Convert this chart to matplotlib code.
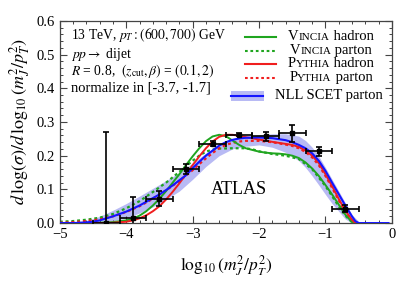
import matplotlib
matplotlib.use('Agg')
import matplotlib.pyplot as plt
from matplotlib.ticker import MultipleLocator
from matplotlib.offsetbox import TextArea, HPacker, AnnotationBbox

plt.rcParams['font.family'] = ['Liberation Serif', 'DejaVu Serif']
plt.rcParams['mathtext.fontset'] = 'stix'

# ATLAS data points
atlas_x = [-4.3, -3.9, -3.5, -3.1, -2.7, -2.3, -1.9, -1.5, -1.1, -0.7]
atlas_y = [0.0, 0.015, 0.072, 0.161, 0.236, 0.262, 0.258, 0.267, 0.213, 0.043]
atlas_yerr = [0.27, 0.063, 0.022, 0.015, 0.007, 0.005, 0.013, 0.025, 0.013, 0.010]
atlas_xerr = [0.2] * 10

# NLL SCET parton (central curve)
nll_x = [-5.0, -4.8, -4.6, -4.5, -4.4, -4.3, -4.2, -4.1, -4.0, -3.9, -3.8, -3.7, -3.6, -3.5,
         -3.4, -3.3, -3.2, -3.1, -3.0, -2.9, -2.8, -2.7, -2.6, -2.5, -2.4, -2.3, -2.2, -2.0,
         -1.8, -1.6, -1.5, -1.4, -1.3, -1.2, -1.1, -1.0, -0.9, -0.8, -0.7, -0.6, -0.55, -0.5, -0.05]
nll_y = [0.0, 0.0, 0.002, 0.004, 0.008, 0.014, 0.02, 0.027, 0.034, 0.043, 0.052, 0.063, 0.074, 0.085,
         0.098, 0.112, 0.127, 0.142, 0.163, 0.182, 0.2, 0.215, 0.23, 0.24, 0.247, 0.251, 0.253, 0.254,
         0.252, 0.246, 0.24, 0.232, 0.222, 0.207, 0.185, 0.155, 0.12, 0.086, 0.052, 0.02, 0.006, 0.0, 0.0]

# NLL uncertainty band
band_x = [-5.0, -4.8, -4.6, -4.4, -4.2, -4.0, -3.8, -3.6, -3.4, -3.2, -3.0, -2.8, -2.6, -2.4,
          -2.2, -2.0, -1.8, -1.6, -1.4, -1.3, -1.2, -1.1, -1.0, -0.9, -0.8, -0.7, -0.6, -0.5]
band_lo = [0.0, 0.0, 0.0, 0.002, 0.007, 0.015, 0.03, 0.048, 0.07, 0.095, 0.13, 0.168, 0.2, 0.22,
           0.228, 0.232, 0.225, 0.21, 0.185, 0.165, 0.14, 0.113, 0.085, 0.058, 0.035, 0.012, 0.0, 0.0]
band_hi = [0.0, 0.002, 0.008, 0.02, 0.038, 0.058, 0.08, 0.103, 0.126, 0.15, 0.178, 0.208, 0.233, 0.25,
           0.258, 0.262, 0.265, 0.265, 0.258, 0.245, 0.225, 0.198, 0.165, 0.13, 0.095, 0.06, 0.025, 0.005]

# Vincia hadron
vh_x = [-5.0, -4.6, -4.4, -4.2, -4.0, -3.9, -3.8, -3.7, -3.6, -3.5, -3.4, -3.3, -3.2, -3.1, -3.0,
        -2.9, -2.8, -2.7, -2.6, -2.5, -2.4, -2.3, -2.2, -2.1, -2.0, -1.9, -1.8, -1.7, -1.6, -1.5,
        -1.4, -1.3, -1.2, -1.1, -1.0, -0.9, -0.8, -0.7, -0.6, -0.55]
vh_y = [0.0, 0.0, 0.001, 0.003, 0.008, 0.013, 0.022, 0.035, 0.052, 0.072, 0.095, 0.12, 0.145, 0.172, 0.198,
        0.222, 0.243, 0.257, 0.262, 0.258, 0.245, 0.232, 0.222, 0.217, 0.212, 0.209, 0.207, 0.206, 0.204, 0.2,
        0.193, 0.18, 0.162, 0.14, 0.113, 0.085, 0.055, 0.025, 0.003, 0.0]

# Vincia parton
vp_x = [-5.0, -4.8, -4.6, -4.4, -4.2, -4.0, -3.8, -3.6, -3.4, -3.2, -3.0, -2.9, -2.8, -2.7, -2.6,
        -2.4, -2.2, -2.1, -2.0, -1.8, -1.6, -1.4, -1.2, -1.0, -0.8, -0.7, -0.6, -0.55]
vp_y = [0.004, 0.006, 0.01, 0.016, 0.027, 0.044, 0.065, 0.092, 0.12, 0.152, 0.185, 0.2, 0.212, 0.218, 0.221,
        0.222, 0.222, 0.219, 0.213, 0.205, 0.2, 0.19, 0.16, 0.11, 0.05, 0.022, 0.003, 0.0]

# Pythia hadron
ph_x = [-5.0, -4.4, -4.2, -4.0, -3.9, -3.8, -3.7, -3.6, -3.5, -3.4, -3.3, -3.2, -3.1, -3.0, -2.9,
        -2.8, -2.7, -2.6, -2.5, -2.4, -2.3, -2.2, -2.0, -1.8, -1.6, -1.5, -1.4, -1.3, -1.2, -1.1,
        -1.0, -0.9, -0.8, -0.7, -0.6, -0.55]
ph_y = [0.0, 0.0, 0.001, 0.004, 0.008, 0.014, 0.023, 0.035, 0.05, 0.07, 0.093, 0.118, 0.145, 0.172, 0.198,
        0.222, 0.242, 0.256, 0.262, 0.262, 0.259, 0.255, 0.248, 0.241, 0.235, 0.232, 0.226, 0.215, 0.2, 0.178,
        0.145, 0.11, 0.072, 0.037, 0.01, 0.0]

# Pythia parton
pp_x = [-5.0, -4.8, -4.6, -4.4, -4.2, -4.0, -3.8, -3.6, -3.4, -3.2, -3.0, -2.9, -2.8, -2.7, -2.6,
        -2.5, -2.4, -2.3, -2.2, -2.0, -1.8, -1.6, -1.5, -1.4, -1.3, -1.2, -1.1, -1.0, -0.9, -0.8,
        -0.7, -0.6, -0.55]
pp_y = [0.001, 0.003, 0.006, 0.011, 0.02, 0.033, 0.05, 0.072, 0.097, 0.125, 0.157, 0.175, 0.192, 0.208, 0.222,
        0.232, 0.238, 0.242, 0.244, 0.244, 0.24, 0.233, 0.229, 0.222, 0.211, 0.195, 0.172, 0.14, 0.105, 0.068,
        0.033, 0.008, 0.0]

green = '#1fa51f'
red = '#f01e1e'
blue = '#1414ff'
band_col = '#b8baf4'
dots = (0, (1.3, 1.3))

fig = plt.figure(figsize=(3.99, 2.86), dpi=100)
ax = fig.add_axes([0.150, 0.220, 0.832, 0.707])

ax.fill_between(band_x, band_lo, band_hi, color=band_col, lw=0, zorder=1)
ax.plot(vp_x, vp_y, color=green, lw=1.6, ls=dots, zorder=2)
ax.plot(pp_x, pp_y, color=red, lw=1.6, ls=dots, zorder=2)
ax.plot(vh_x, vh_y, color=green, lw=1.4, zorder=3)
ax.plot(ph_x, ph_y, color=red, lw=1.4, zorder=3)
ax.plot(nll_x, nll_y, color=blue, lw=1.5, zorder=4)
ax.errorbar(atlas_x, atlas_y, yerr=atlas_yerr, xerr=atlas_xerr, fmt='s', color='black',
            ms=3, elinewidth=1.2, capsize=2.2, capthick=1.2, zorder=5, clip_on=True)

ax.set_xlim(-5, 0)
ax.set_ylim(0, 0.6)
ax.xaxis.set_major_locator(MultipleLocator(1))
ax.xaxis.set_minor_locator(MultipleLocator(0.2))
ax.yaxis.set_major_locator(MultipleLocator(0.1))
ax.yaxis.set_minor_locator(MultipleLocator(0.02))
ax.yaxis.set_major_formatter(plt.FormatStrFormatter('%.1f'))
ax.tick_params(which='both', direction='in', top=True, right=True, labelsize=10.5, color='#444444')
ax.tick_params(which='major', length=5, width=0.8)
ax.tick_params(which='minor', length=2.5, width=0.7)
for s in ax.spines.values():
    s.set_color('#444444')
    s.set_linewidth(0.9)

ax.set_xlabel(r'$\log_{10}(m_J^2/p_T^2)$', fontsize=12.5, labelpad=9)
ax.set_ylabel(r'$d\,\log(\sigma)/d\,\log_{10}(m_J^2/p_T^2)$', fontsize=13, labelpad=3)

# info text top left
info = [r'13 TeV, $p_T: (600, 700)$ GeV',
        r'$pp \rightarrow$ dijet',
        r'$R$ = 0.8,  $(z_{\rm cut}, \beta)$ = $(0.1, 2)$',
        'normalize in [-3.7, -1.7]']
info_y = [0.928, 0.834, 0.752, 0.666]
info_size = [9.8, 9.8, 9.8, 10.5]
for t, y, fs in zip(info, info_y, info_size):
    ax.text(0.033, y, t, transform=ax.transAxes, fontsize=fs, ha='left', va='center')

ax.text(0.54, 0.165, 'ATLAS', transform=ax.transAxes, fontsize=13, ha='center', va='center')

# legend drawn by hand (small caps names)
leg_rows = [
    (('V', 'INCIA', ' hadron'), green, '-', 0.921),
    (('V', 'INCIA', ' parton'), green, dots, 0.852),
    (('P', 'YTHIA', ' hadron'), red, '-', 0.787),
    (('P', 'YTHIA', ' parton'), red, dots, 0.718),
]
for (big, small, rest), col, ls, y in leg_rows:
    ax.plot([0.557, 0.65], [y, y], transform=ax.transAxes, color=col, lw=1.5, ls=ls, clip_on=False)
    box = HPacker(children=[TextArea(big, textprops=dict(fontsize=10.5)),
                            TextArea(small, textprops=dict(fontsize=8)),
                            TextArea(rest, textprops=dict(fontsize=10.5))],
                  align='baseline', pad=0, sep=0)
    ab = AnnotationBbox(box, (0.816, y), xycoords='axes fraction', frameon=False,
                        box_alignment=(0.5, 0.5), pad=0)
    ax.add_artist(ab)

y_nll = 0.629
ax.fill_between([0.517, 0.614], [y_nll - 0.026] * 2, [y_nll + 0.026] * 2,
                transform=ax.transAxes, color=band_col, lw=0)
ax.plot([0.517, 0.612], [y_nll, y_nll], transform=ax.transAxes, color=blue, lw=1.5)
ax.text(0.81, y_nll, 'NLL SCET parton', transform=ax.transAxes, fontsize=10.5, ha='center', va='center')

fig.savefig('out.png', dpi=100)
